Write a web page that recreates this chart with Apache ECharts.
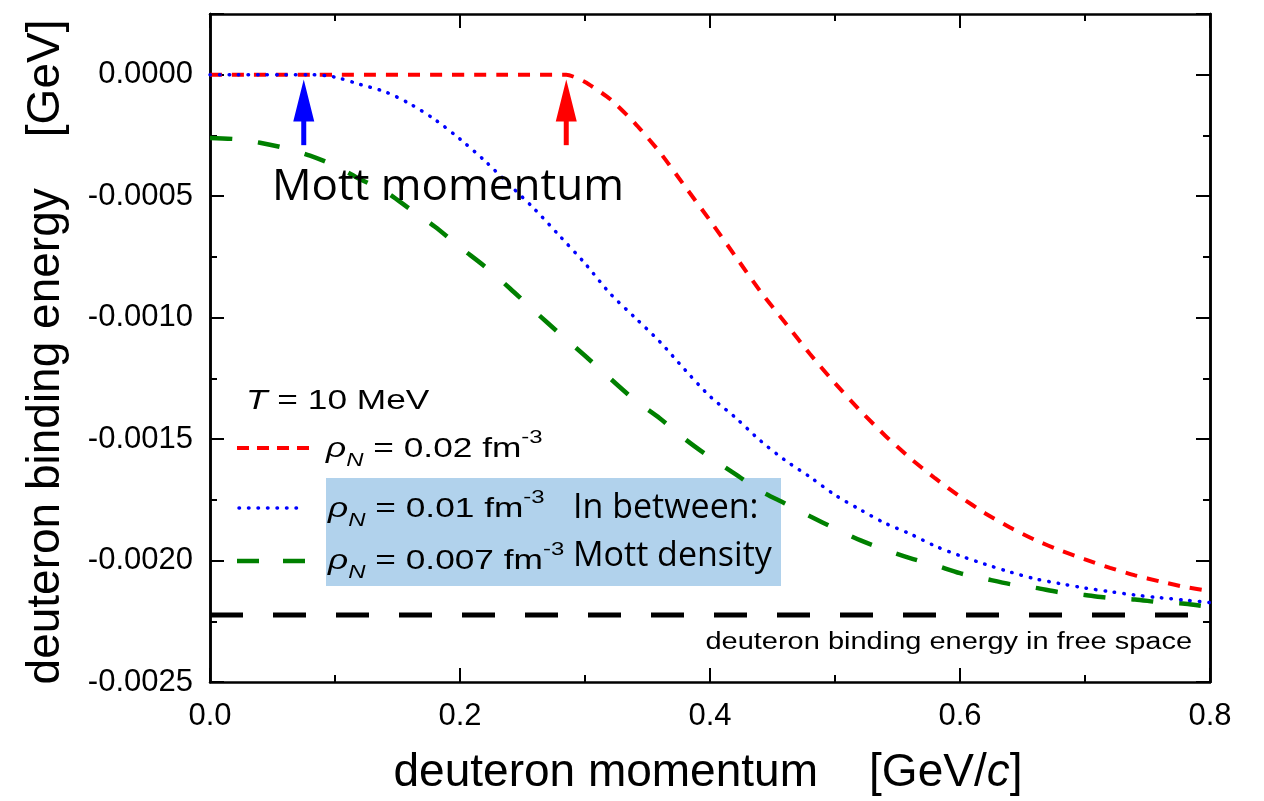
<!DOCTYPE html>
<html>
<head>
<meta charset="utf-8">
<script src="https://cdn.jsdelivr.net/npm/echarts@6/dist/echarts.min.js"></script>
<style>
html,body{margin:0;padding:0;background:#fff;}
#chart{width:1264px;height:801px;}
</style>
</head>
<body>
<div id="chart"></div>
<script>
// ---------- data ----------
const momentumRed = [0, 0.285, 0.30, 0.32, 0.34, 0.36, 0.38, 0.40, 0.42, 0.44, 0.46, 0.48, 0.50, 0.52, 0.54, 0.56, 0.58, 0.60, 0.62, 0.64, 0.66, 0.68, 0.70, 0.72, 0.74, 0.76, 0.78, 0.80];
const energyRed = [0, 0, -0.00003, -0.0001, -0.0002, -0.00032, -0.00046, -0.0006, -0.000745, -0.00089, -0.00102, -0.00115, -0.00127, -0.001382, -0.001485, -0.001578, -0.001661, -0.001737, -0.001805, -0.001864, -0.001915, -0.001958, -0.001995, -0.00203, -0.002061, -0.002086, -0.002109, -0.002125];

const momentum = [0, 0.02, 0.04, 0.06, 0.08, 0.10, 0.12, 0.14, 0.16, 0.18, 0.20, 0.22, 0.24, 0.26, 0.28, 0.30, 0.32, 0.34, 0.36, 0.38, 0.40, 0.42, 0.44, 0.46, 0.48, 0.50, 0.52, 0.54, 0.56, 0.58, 0.60, 0.62, 0.64, 0.66, 0.68, 0.70, 0.72, 0.74, 0.76, 0.78, 0.80];
const energyBlue = [0, 0, 0, 0, 0, -0.00001, -0.00004, -0.00007, -0.00012, -0.000185, -0.000265, -0.000355, -0.000455, -0.000555, -0.000665, -0.000777, -0.0009, -0.001, -0.0011, -0.001215, -0.001324, -0.00141, -0.001505, -0.001587, -0.001656, -0.00173, -0.00179, -0.001846, -0.00189, -0.00194, -0.00198, -0.002015, -0.002047, -0.002075, -0.002095, -0.002113, -0.002128, -0.002142, -0.002153, -0.002163, -0.002173];
const energyGreen = [-0.00026, -0.000265, -0.00028, -0.000302, -0.000333, -0.000375, -0.00043, -0.00048, -0.000553, -0.000626, -0.00071, -0.00079, -0.00088, -0.000975, -0.001067, -0.001157, -0.00125, -0.00134, -0.001415, -0.0015, -0.001575, -0.001643, -0.001712, -0.001765, -0.001818, -0.001868, -0.001916, -0.001955, -0.00199, -0.002019, -0.002052, -0.002075, -0.002097, -0.002112, -0.002131, -0.002142, -0.002154, -0.00216, -0.002172, -0.002178, -0.002192];

const freeSpaceMomentum = [0, 0.8];
const freeSpaceEnergy = [-0.002224, -0.002224];

const arrowMomentum = [0.075, 0.285];
const arrowTip = -0.00002;
const arrowBase = -0.00029;

const xTicks = [0, 0.2, 0.4, 0.6, 0.8];
const yTicks = [-0.0025, -0.002, -0.0015, -0.001, -0.0005, 0];

const legendLabels = ['0.02', '0.01', '0.007'];

// ---------- chart ----------
const chart = echarts.init(document.getElementById('chart'), null, {renderer: 'canvas'});

const GRID = {left: 210, top: 14, width: 1000, height: 668};
const BLACK = '#000';
const RED = '#ff0000', BLUE = '#0000ff', GREEN = '#008000';
const SX = 1.26; // horizontal stretch of the Arial texts in the original

function pairs(xs, ys) { return xs.map((x, i) => [x, ys[i]]); }

function yLabel(v) {
  if (v > 0.0001) return '';
  if (Math.abs(v) < 1e-10) return '0.0000';
  return v.toFixed(4);
}

const commonY = {
  type: 'value', min: yTicks[0], max: 0.00025,
  axisLine: {show: true, lineStyle: {color: BLACK, width: 2.5}},
  splitLine: {show: false}
};

function arrowSeries(xv, color) {
  return {
    type: 'custom', xAxisIndex: 0, yAxisIndex: 0, z: 5,
    data: [[xv, arrowTip, arrowBase]],
    renderItem: function (params, api) {
      const tip = api.coord([api.value(0), api.value(1)]);
      const base = api.coord([api.value(0), api.value(2)]);
      const headLen = 42, headW = 21, stemW = 5;
      return {
        type: 'group',
        children: [
          {type: 'rect', shape: {x: tip[0] - stemW / 2, y: tip[1] + headLen - 1, width: stemW, height: base[1] - tip[1] - headLen + 1}, style: {fill: color}},
          {type: 'polygon', shape: {points: [[tip[0], tip[1]], [tip[0] - headW / 2, tip[1] + headLen], [tip[0] + headW / 2, tip[1] + headLen]]}, style: {fill: color}}
        ]
      };
    }
  };
}

const rhoRich = {
  base: {fontFamily: 'Liberation Sans', fontSize: 28, color: '#000', lineHeight: 42},
  rho: {fontFamily: 'Liberation Sans', fontSize: 28, fontStyle: 'italic', color: '#000', lineHeight: 42},
  sub: {fontFamily: 'Liberation Sans', fontSize: 19, fontStyle: 'italic', color: '#000', verticalAlign: 'bottom', lineHeight: 42},
  sup: {fontFamily: 'Liberation Sans', fontSize: 19, color: '#000', verticalAlign: 'top', lineHeight: 42}
};
function rhoText(val) { return '{rho|ρ}{sub|N}{base| = ' + val + ' fm}{sup|-3}'; }

function stretchedText(x, y, style, align) {
  return {type: 'text', z: 10, x: x, y: y, scaleX: SX, scaleY: 1,
    style: Object.assign({x: 0, y: 0, align: align || 'left', verticalAlign: 'middle'}, style)};
}

const option = {
  backgroundColor: '#fff',
  animation: false,
  grid: GRID,
  xAxis: [
    {
      type: 'value', min: xTicks[0], max: xTicks[xTicks.length - 1], interval: 0.2, position: 'bottom',
      axisLine: {show: true, onZero: false, lineStyle: {color: BLACK, width: 2.5}},
      axisTick: {show: true, inside: true, length: 14, lineStyle: {color: BLACK, width: 2}},
      minorTick: {show: true, splitNumber: 2, length: 7, lineStyle: {color: BLACK, width: 2}},
      axisLabel: {color: BLACK, fontSize: 31, fontFamily: 'Liberation Sans', margin: 19, formatter: v => v.toFixed(1)},
      splitLine: {show: false}, minorSplitLine: {show: false}
    },
    {
      type: 'value', min: xTicks[0], max: xTicks[xTicks.length - 1], interval: 0.2, position: 'top',
      axisLine: {show: true, onZero: false, lineStyle: {color: BLACK, width: 2.5}},
      axisTick: {show: true, inside: true, length: 14, lineStyle: {color: BLACK, width: 2}},
      minorTick: {show: true, splitNumber: 2, length: 7, lineStyle: {color: BLACK, width: 2}},
      axisLabel: {show: false},
      splitLine: {show: false}, minorSplitLine: {show: false}
    }
  ],
  yAxis: [
    Object.assign({}, commonY, {
      position: 'left', interval: 0.0005,
      axisTick: {show: true, inside: true, length: 14, lineStyle: {color: BLACK, width: 2}},
      axisLabel: {color: BLACK, fontSize: 31, fontFamily: 'Liberation Sans', margin: 17, formatter: yLabel}
    }),
    Object.assign({}, commonY, {
      position: 'left', interval: 0.00025,
      axisTick: {show: true, inside: true, length: 7, lineStyle: {color: BLACK, width: 2}},
      axisLabel: {show: false}
    }),
    Object.assign({}, commonY, {
      position: 'right', interval: 0.0005,
      axisTick: {show: true, inside: true, length: 14, lineStyle: {color: BLACK, width: 2}},
      axisLabel: {show: false}
    }),
    Object.assign({}, commonY, {
      position: 'right', interval: 0.00025,
      axisTick: {show: true, inside: true, length: 7, lineStyle: {color: BLACK, width: 2}},
      axisLabel: {show: false}
    })
  ],
  series: [
    {
      name: 'free', type: 'line', data: pairs(freeSpaceMomentum, freeSpaceEnergy), symbol: 'none',
      lineStyle: {color: BLACK, width: 5, type: [33, 30]}, z: 2
    },
    {
      name: 'rho002', type: 'line', data: pairs(momentumRed, energyRed), symbol: 'none', smooth: 0.2,
      lineStyle: {color: RED, width: 4, type: [12, 10]}, z: 3
    },
    {
      name: 'rho0007', type: 'line', data: pairs(momentum, energyGreen), symbol: 'none', smooth: 0.3,
      lineStyle: {color: GREEN, width: 4.5, type: [22, 26]}, z: 3
    },
    {
      name: 'rho001', type: 'line', data: pairs(momentum, energyBlue), symbol: 'none', smooth: 0.3,
      lineStyle: {color: BLUE, width: 3.5, type: [0.5, 9], cap: 'round'}, z: 4
    },
    arrowSeries(arrowMomentum[0], BLUE),
    arrowSeries(arrowMomentum[1], RED)
  ],
  graphic: [
    // light blue box
    {type: 'rect', z: 1, shape: {x: 326, y: 478, width: 455, height: 108}, style: {fill: '#b1d2ec'}},
    // legend samples
    {type: 'line', z: 10, shape: {x1: 237, y1: 448, x2: 311, y2: 448}, style: {stroke: RED, lineWidth: 4, lineDash: [12, 8]}},
    {type: 'line', z: 10, shape: {x1: 239, y1: 508, x2: 305, y2: 508}, style: {stroke: BLUE, lineWidth: 3.5, lineDash: [0.5, 9], lineCap: 'round'}},
    {type: 'line', z: 10, shape: {x1: 237, y1: 561, x2: 305, y2: 561}, style: {stroke: GREEN, lineWidth: 4.5, lineDash: [22, 24]}},
    // legend texts
    stretchedText(246, 401, {text: '{i|T}{n| = 10 MeV}',
      rich: {i: {fontFamily: 'Liberation Sans', fontSize: 28, fontStyle: 'italic', color: '#000'}, n: {fontFamily: 'Liberation Sans', fontSize: 28, color: '#000'}}}),
    stretchedText(326, 449, {text: rhoText(legendLabels[0]), rich: rhoRich}),
    stretchedText(328, 509, {text: rhoText(legendLabels[1]), rich: rhoRich}),
    stretchedText(328, 561, {text: rhoText(legendLabels[2]), rich: rhoRich}),
    {type: 'text', z: 10, style: {x: 573, y: 508, text: 'In between:', verticalAlign: 'middle', fontFamily: 'Open Sans', fontSize: 34, fill: '#000'}},
    {type: 'text', z: 10, style: {x: 573, y: 556, text: 'Mott density', verticalAlign: 'middle', fontFamily: 'Open Sans', fontSize: 34, fill: '#000'}},
    // annotations
    {type: 'text', z: 10, style: {x: 272, y: 187, text: 'Mott momentum', verticalAlign: 'middle', fontFamily: 'Open Sans', fontSize: 44, fill: '#000'}},
    stretchedText(1192, 643, {text: 'deuteron binding energy in free space', fontFamily: 'Liberation Sans', fontSize: 23, fill: '#000'}, 'right'),
    // axis titles
    {type: 'text', z: 10, style: {x: 708, y: 773, align: 'center', verticalAlign: 'middle',
      text: '{n|deuteron momentum    [GeV/}{i|c}{n|]}',
      rich: {n: {fontFamily: 'Liberation Sans', fontSize: 46, color: '#000'}, i: {fontFamily: 'Liberation Sans', fontSize: 46, fontStyle: 'italic', color: '#000'}}}},
    {type: 'text', z: 10, rotation: Math.PI / 2, x: 46, y: 352, style: {x: 0, y: 0, align: 'center', verticalAlign: 'middle',
      text: 'deuteron binding energy    [GeV]', fontFamily: 'Liberation Sans', fontSize: 46, fill: '#000'}}
  ]
};
chart.setOption(option);
</script>
</body>
</html>
